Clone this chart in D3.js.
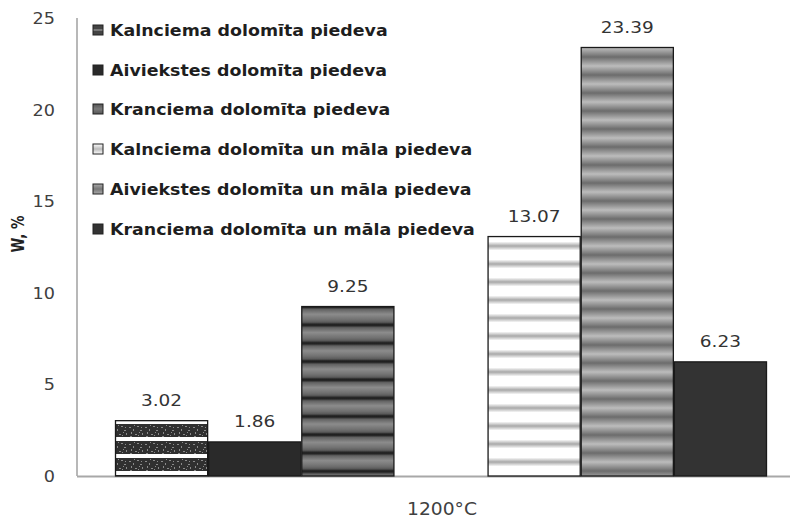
<!DOCTYPE html>
<html><head><meta charset="utf-8">
<script src="https://cdn.jsdelivr.net/npm/d3@7"></script>
<style>body{margin:0;background:#fff}svg{display:block}</style>
</head><body>
<svg id="chart" width="796" height="517"></svg>
<script>
const category = "1200°C";
const seriesNames = [
  "Kalnciema dolomīta piedeva",
  "Aiviekstes dolomīta piedeva",
  "Kranciema dolomīta piedeva",
  "Kalnciema dolomīta un māla piedeva",
  "Aiviekstes dolomīta un māla piedeva",
  "Kranciema dolomīta un māla piedeva"
];
const values = [3.02, 1.86, 9.25, 13.07, 23.39, 6.23];
const yTicks = [0, 5, 10, 15, 20, 25];
const fills = ["p1", "p2", "p3", "p4", "p5", "p6"];

const svg = d3.select("#chart");
const defs = svg.append("defs");

function stretch(sel, k){
  sel.each(function(){
    const w = this.getComputedTextLength();
    d3.select(this).attr("textLength", w*k).attr("lengthAdjust","spacingAndGlyphs");
  });
}

// pattern 1: mottled dark bands on white
{
  const p = defs.append("pattern").attr("id","p1").attr("patternUnits","userSpaceOnUse")
    .attr("width",16).attr("height",17).attr("y",421);
  p.append("rect").attr("width",16).attr("height",17).attr("fill","#fff");
  p.append("rect").attr("y",3).attr("width",16).attr("height",13).attr("fill","#303030");
  [[1,6,2,1],[5,8,1,2],[9,5,2,1],[12,9,2,1],[3,11,1,2],[7,13,2,1],[14,12,1,2],[10,14,1,1],[2,15,2,1],[13,6,1,1],[6,4,1,1],[11,11,1,1]]
    .forEach(d=>p.append("rect").attr("x",d[0]).attr("y",d[1]).attr("width",d[2]).attr("height",d[3]).attr("fill","#8a8a8a"));
}
{
  const p = defs.append("pattern").attr("id","p2").attr("patternUnits","userSpaceOnUse").attr("width",10).attr("height",10);
  p.append("rect").attr("width",10).attr("height",10).attr("fill","#2a2a2a");
}
function stripe(id, period, stops, yoff){
  const g = defs.append("linearGradient").attr("id",id+"g").attr("x1",0).attr("y1",0).attr("x2",0).attr("y2",1);
  stops.forEach(s=>g.append("stop").attr("offset",s[0]).attr("stop-color",s[1]));
  const p = defs.append("pattern").attr("id",id).attr("patternUnits","userSpaceOnUse")
    .attr("width",10).attr("height",period).attr("y",yoff);
  p.append("rect").attr("width",10).attr("height",period).attr("fill",`url(#${id}g)`);
}
stripe("p3", 18.3, [[0,"#1c1c1c"],[0.1,"#2a2a2a"],[0.16,"#5e5e5e"],[0.45,"#8c8c8c"],[0.75,"#707070"],[0.9,"#5a5a5a"],[1,"#1c1c1c"]], 306);
stripe("p4", 18, [[0,"#ffffff"],[0.25,"#ffffff"],[0.5,"#a8a8a8"],[0.75,"#ffffff"],[1,"#ffffff"]], 237);
stripe("p5", 18, [[0,"#bcbcbc"],[0.5,"#6c6c6c"],[1,"#bcbcbc"]], 48);
{
  const p = defs.append("pattern").attr("id","p6").attr("patternUnits","userSpaceOnUse").attr("width",10).attr("height",10);
  p.append("rect").attr("width",10).attr("height",10).attr("fill","#333333");
}

// scales
const y = d3.scaleLinear().domain([0, 25]).range([476, 18]);
const slots = [0,1,2,"gap",3,4,5];
const x = d3.scaleBand().domain(slots).range([115, 767]).padding(0);

// axes
svg.append("line").attr("x1",77).attr("x2",77).attr("y1",18).attr("y2",476).attr("stroke","#a0a0a0").attr("stroke-width",1.5);
svg.append("line").attr("x1",77).attr("x2",790).attr("y1",476.5).attr("y2",476.5).attr("stroke","#a8a8a8").attr("stroke-width",2);

svg.append("g").selectAll("text").data(yTicks).join("text")
  .attr("x",55).attr("y",d=>y(d)+6).attr("text-anchor","end")
  .attr("font-family","DejaVu Sans").attr("font-size",16).attr("fill","#404040")
  .text(d=>d).call(stretch, 1.1);

const yl = svg.append("text").attr("transform","translate(24,234) rotate(-90)").attr("text-anchor","middle")
  .attr("font-family","DejaVu Sans").attr("font-weight","bold").attr("font-size",17).attr("fill","#222")
  .text("W, %");
yl.attr("textLength",37).attr("lengthAdjust","spacingAndGlyphs");

svg.append("text").attr("x",442).attr("y",514.5).attr("text-anchor","middle")
  .attr("font-family","DejaVu Sans").attr("font-size",17).attr("fill","#404040").text(category)
  .call(stretch, 1.1);

// bars
svg.append("g").selectAll("rect").data(values).join("rect")
  .attr("x",(d,i)=>x(i)+0.5).attr("width",x.bandwidth()-1)
  .attr("y",d=>y(d)).attr("height",d=>y(0)-y(d))
  .attr("fill",(d,i)=>`url(#${fills[i]})`).attr("stroke","#1a1a1a").attr("stroke-width",1.3);

// data labels
svg.append("g").selectAll("text").data(values).join("text")
  .attr("x",(d,i)=>x(i)+x.bandwidth()/2)
  .attr("y",d=>y(d)-14.5)
  .attr("text-anchor","middle")
  .attr("font-family","DejaVu Sans").attr("font-size",16.5).attr("fill","#333")
  .text(d=>d.toFixed(2)).call(stretch, 1.12);

// legend
const lg = svg.append("g");
const ly = [30, 70, 109, 149, 189, 229];
seriesNames.forEach((n,i)=>{
  const g = lg.append("g").attr("transform",`translate(93,${ly[i]})`);
  const sid = "s"+i;
  const sf = [
    [[0,"#444"],[0.4,"#444"],[0.5,"#aaa"],[0.6,"#444"],[1,"#444"]],
    [[0,"#2a2a2a"],[1,"#2a2a2a"]],
    [[0,"#555"],[0.5,"#7a7a7a"],[1,"#555"]],
    [[0,"#fff"],[0.5,"#bbb"],[1,"#fff"]],
    [[0,"#aaa"],[0.5,"#777"],[1,"#aaa"]],
    [[0,"#333"],[1,"#333"]]
  ][i];
  const gr = defs.append("linearGradient").attr("id",sid).attr("x1",0).attr("y1",0).attr("x2",0).attr("y2",1);
  sf.forEach(s=>gr.append("stop").attr("offset",s[0]).attr("stop-color",s[1]));
  g.append("rect").attr("x",0).attr("y",-5).attr("width",10).attr("height",10)
    .attr("fill",`url(#${sid})`).attr("stroke","#222").attr("stroke-width",1);
  g.append("text").attr("x",17).attr("y",5.5)
    .attr("font-family","DejaVu Sans").attr("font-weight","bold").attr("font-size",15).attr("fill","#1e1e1e")
    .text(n).call(stretch, 1.16);
});
</script>
</body></html>
